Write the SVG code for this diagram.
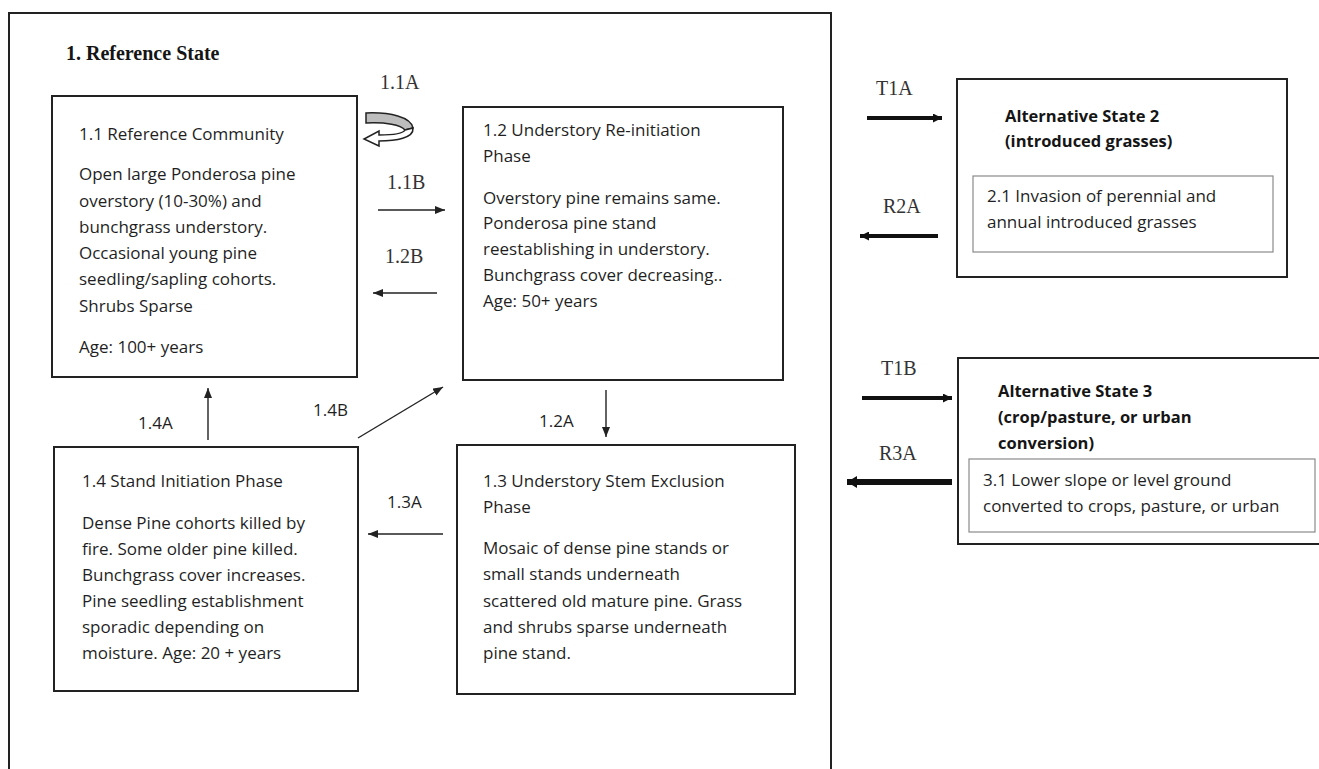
<svg xmlns="http://www.w3.org/2000/svg" width="1319" height="769" viewBox="0 0 1319 769">
<style>
  .box { fill: #fff; stroke: #222; stroke-width: 2; }
  .inner { fill: #fff; stroke: #8a8a8a; stroke-width: 1.2; }
  .t { font-family: "Open Sans", "Liberation Sans", sans-serif; font-size: 17px; fill: #1f1f1f; }
  .tb { font-family: "Open Sans", "Liberation Sans", sans-serif; font-size: 16.5px; font-weight: bold; fill: #151515; }
  .s { font-family: "Liberation Serif", "Times New Roman", serif; font-size: 20px; fill: #333; }
  .sb { font-family: "Liberation Serif", "Times New Roman", serif; font-size: 20px; font-weight: bold; fill: #151515; }
  .thin { stroke: #222; stroke-width: 1.4; fill: none; marker-end: url(#ah); }
  .thick { stroke: #111; stroke-width: 4; fill: none; marker-end: url(#ahb); }
  .thicker { stroke: #111; stroke-width: 6; fill: none; marker-end: url(#ahc); }
</style>
<defs>
  <marker id="ah" markerUnits="userSpaceOnUse" markerWidth="10" markerHeight="8" refX="10" refY="4" orient="auto">
    <path d="M0,0 L10,4 L0,8 Z" fill="#222"/>
  </marker>
  <marker id="ahb" markerUnits="userSpaceOnUse" markerWidth="9" markerHeight="9" refX="9" refY="4.5" orient="auto">
    <path d="M0,0 L9,4.5 L0,9 Z" fill="#111"/>
  </marker>
  <marker id="ahc" markerUnits="userSpaceOnUse" markerWidth="10" markerHeight="12" refX="10" refY="6" orient="auto">
    <path d="M0,0 L10,6 L0,12 Z" fill="#111"/>
  </marker>
</defs>
<rect width="1319" height="769" fill="#fff"/>

<g id="state1">
  <rect class="box" x="9" y="13" width="822" height="800"/>
  <text class="sb" x="66" y="60">1. Reference State</text>
</g>

<g id="n11">
  <rect class="box" x="52" y="96" width="305" height="281"/>
  <text class="t" x="79" y="140">1.1 Reference Community</text>
  <text class="t" x="79" y="180">Open large Ponderosa pine</text>
  <text class="t" x="79" y="207">overstory (10-30%) and</text>
  <text class="t" x="79" y="233">bunchgrass understory.</text>
  <text class="t" x="79" y="259">Occasional young pine</text>
  <text class="t" x="79" y="285">seedling/sapling cohorts.</text>
  <text class="t" x="79" y="312">Shrubs Sparse</text>
  <text class="t" x="79" y="353">Age: 100+ years</text>
</g>

<g id="n12">
  <rect class="box" x="463" y="107" width="320" height="273"/>
  <text class="t" x="483" y="136">1.2 Understory Re-initiation</text>
  <text class="t" x="483" y="162">Phase</text>
  <text class="t" x="483" y="204">Overstory pine remains same.</text>
  <text class="t" x="483" y="229">Ponderosa pine stand</text>
  <text class="t" x="483" y="255">reestablishing in understory.</text>
  <text class="t" x="483" y="281">Bunchgrass cover decreasing..</text>
  <text class="t" x="483" y="307">Age: 50+ years</text>
</g>

<g id="n13">
  <rect class="box" x="457" y="445" width="338" height="249"/>
  <text class="t" x="483" y="487">1.3 Understory Stem Exclusion</text>
  <text class="t" x="483" y="513">Phase</text>
  <text class="t" x="483" y="554">Mosaic of dense pine stands or</text>
  <text class="t" x="483" y="580">small stands underneath</text>
  <text class="t" x="483" y="607">scattered old mature pine. Grass</text>
  <text class="t" x="483" y="633">and shrubs sparse underneath</text>
  <text class="t" x="483" y="659">pine stand.</text>
</g>

<g id="n14">
  <rect class="box" x="54" y="447" width="304" height="244"/>
  <text class="t" x="82" y="487">1.4 Stand Initiation Phase</text>
  <text class="t" x="82" y="529">Dense Pine cohorts killed by</text>
  <text class="t" x="82" y="555">fire. Some older pine killed.</text>
  <text class="t" x="82" y="581">Bunchgrass cover increases.</text>
  <text class="t" x="82" y="607">Pine seedling establishment</text>
  <text class="t" x="82" y="633">sporadic depending on</text>
  <text class="t" x="82" y="659">moisture. Age: 20 + years</text>
</g>

<g id="state2">
  <rect class="box" x="957" y="79" width="330" height="198"/>
  <text class="tb" x="1005" y="122">Alternative State 2</text>
  <text class="tb" x="1005" y="147">(introduced grasses)</text>
  <rect class="inner" x="973" y="176" width="300" height="76"/>
  <text class="t" x="987" y="202">2.1 Invasion of perennial and</text>
  <text class="t" x="987" y="228">annual introduced grasses</text>
</g>

<g id="state3">
  <rect class="box" x="958" y="358" width="400" height="186"/>
  <text class="tb" x="998" y="397">Alternative State 3</text>
  <text class="tb" x="998" y="423">(crop/pasture, or urban</text>
  <text class="tb" x="998" y="449">conversion)</text>
  <rect class="inner" x="969" y="459" width="346" height="73"/>
  <text class="t" x="983" y="486">3.1 Lower slope or level ground</text>
  <text class="t" x="983" y="512">converted to crops, pasture, or urban</text>
</g>

<g id="connectors">
  <path d="M366,113 C390,112 411,117 413,128 L405,130 C401,125 386,122 366,123 Z" fill="#bdbdbd" stroke="#222" stroke-width="1.5"/>
  <path d="M413,128 C414,138 396,141 379,141 L379,146 L364,139 L379,131 L379,135 C393,135 403,134 405,130 Z" fill="#fff" stroke="#222" stroke-width="1.5"/>
  <path class="thin" d="M378,210 L445,210"/>
  <path class="thin" d="M437,293 L373,293"/>
  <path class="thin" d="M208,440 L208,388"/>
  <path class="thin" d="M358,438 L443,387"/>
  <path class="thin" d="M443,534 L368,534"/>
  <path class="thin" d="M606,390 L606,437"/>
  <path class="thick" d="M867,118 L942,118"/>
  <path class="thick" d="M938,236 L860,236"/>
  <path class="thick" d="M862,398 L952,398"/>
  <path class="thicker" d="M952,482 L847,482"/>
  <text class="s" x="380" y="89">1.1A</text>
  <text class="s" x="387" y="189">1.1B</text>
  <text class="s" x="385" y="263">1.2B</text>
  <text class="t" x="138" y="429">1.4A</text>
  <text class="t" x="313" y="416">1.4B</text>
  <text class="t" x="387" y="508">1.3A</text>
  <text class="t" x="539" y="427">1.2A</text>
  <text class="s" x="876" y="95">T1A</text>
  <text class="s" x="883" y="213">R2A</text>
  <text class="s" x="881" y="375">T1B</text>
  <text class="s" x="879" y="460">R3A</text>
</g>
</svg>
